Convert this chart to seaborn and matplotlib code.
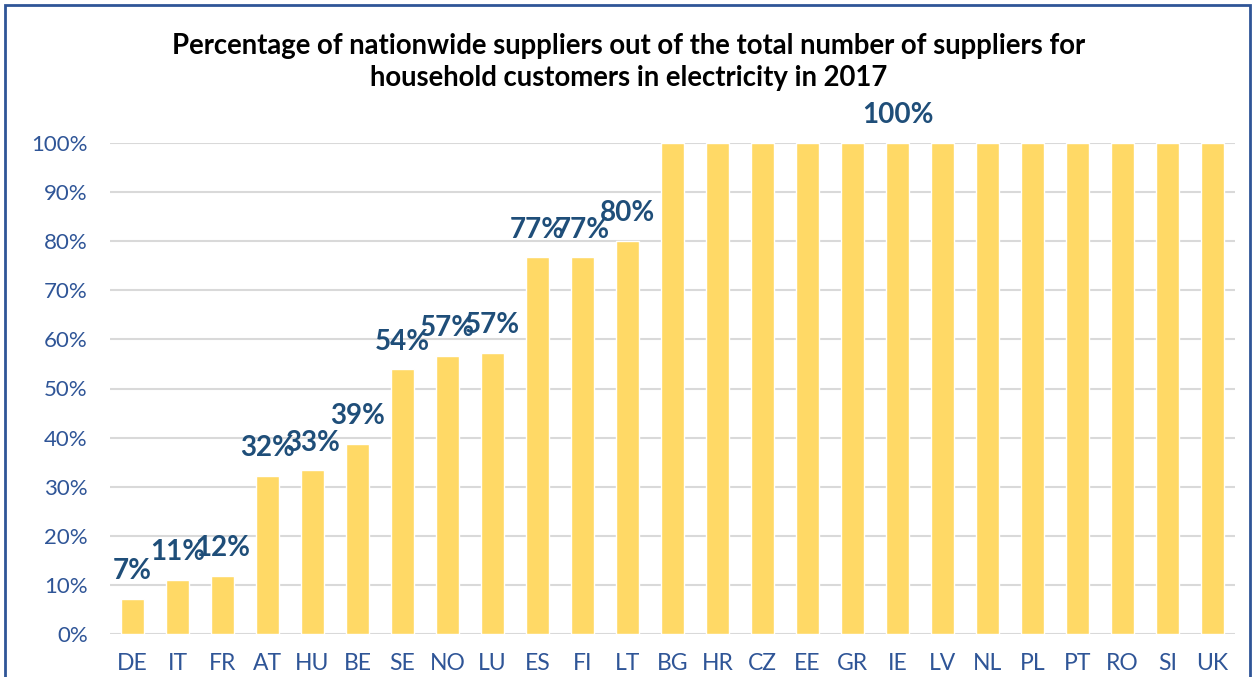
import numpy as np
import pandas as pd
import matplotlib.pyplot as plt
import matplotlib.ticker as ticker
import seaborn as sns

# data
countries = ["DE", "IT", "FR", "AT", "HU", "BE", "SE", "NO", "LU", "ES", "FI", "LT",
             "BG", "HR", "CZ", "EE", "GR", "IE", "LV", "NL", "PL", "PT", "RO", "SI", "UK"]
shares = [7.1, 11.0, 11.8, 32.2, 33.3, 38.7, 53.9, 56.6, 57.2, 76.7, 76.7, 80.0,
          100, 100, 100, 100, 100, 100, 100, 100, 100, 100, 100, 100, 100]
# only one label shown for the 100% group (above IE)
labels = ["7%", "11%", "12%", "32%", "33%", "39%", "54%", "57%", "57%", "77%", "77%", "80%",
          "", "", "", "", "", "100%", "", "", "", "", "", "", ""]

df = pd.DataFrame({"country": countries, "share": shares, "label": labels})

bar_color = "#FFD966"
label_color = "#1F4E79"
tick_color = "#2F5597"

sns.set_theme(style="white")
plt.rcParams["font.family"] = ["Lato", "DejaVu Sans"]

fig = plt.figure(figsize=(12.53, 6.77), dpi=100)
ax = fig.add_axes([110 / 1253, 43 / 677, 1125 / 1253, 491 / 677])

sns.barplot(data=df, x="country", y="share", color=bar_color, width=0.52,
            saturation=1, ax=ax, zorder=3)

for i, row in df.iterrows():
    if row["label"]:
        ax.annotate(row["label"], (i, row["share"]), xytext=(0, 20),
                    textcoords="offset points", ha="center", va="center",
                    fontsize=20, fontweight="bold", color=label_color)

ax.set_ylim(0, 100)
ax.set_xlim(-0.5, len(countries) - 0.5)
ax.yaxis.set_major_locator(ticker.MultipleLocator(10))
ax.yaxis.set_major_formatter(ticker.FuncFormatter(lambda v, _: f"{int(v)}%"))
ax.grid(axis="y", color="#D9D9D9", linewidth=1.5, zorder=0)
ax.set_axisbelow(True)
for s in ax.spines.values():
    s.set_visible(False)
ax.tick_params(axis="y", labelsize=16, labelcolor=tick_color, length=0, pad=16)
ax.tick_params(axis="x", labelsize=16.5, labelcolor=tick_color, length=0, pad=14)
ax.set_xlabel("")
ax.set_ylabel("")

fig.text(0.502, 0.908,
         "Percentage of nationwide suppliers out of the total number of suppliers for\n"
         "household customers in electricity in 2017",
         ha="center", va="center", fontsize=19.8, fontweight="bold", color="black",
         linespacing=1.3)

# figure border
border = plt.Rectangle((5 / 1253, -0.01), 1245 / 1253, 1 - 5 / 677 + 0.01,
                       transform=fig.transFigure, fill=False,
                       edgecolor="#2F5597", linewidth=2)
fig.patches.append(border)

fig.savefig("out.png", dpi=100)
